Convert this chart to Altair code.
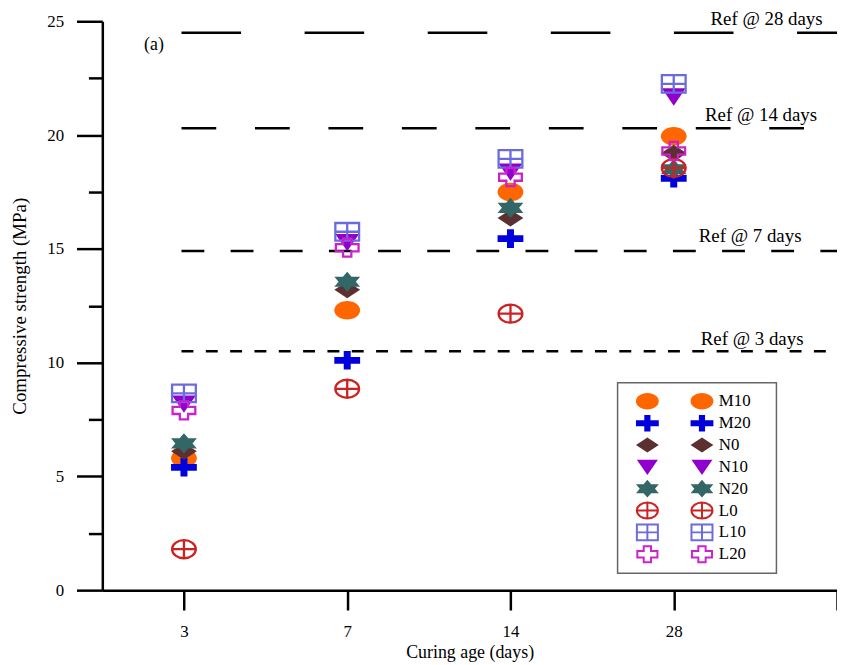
import json
import altair as alt
import pandas as pd

# ---------------- data ----------------
ages = ["3", "7", "14", "28"]
series = ["M10", "M20", "N0", "N10", "N20", "L0", "L10", "L20"]
M10 = [5.8, 12.3, 17.5, 19.95]
M20 = [5.4, 10.1, 15.45, 18.1]
N0 = [6.1, 13.2, 16.35, 19.2]
N10 = [8.2, 15.3, 18.4, 21.7]
N20 = [6.45, 13.55, 16.8, 18.5]
L0 = [1.8, 8.85, 12.15, 18.55]
L10 = [8.65, 15.75, 18.95, 22.25]
L20 = [7.9, 15.05, 18.15, 19.3]
values = {"M10": M10, "M20": M20, "N0": N0, "N10": N10, "N20": N20,
          "L0": L0, "L10": L10, "L20": L20}

ref_values = [10.5, 14.9, 20.3, 24.5]
ref_labels = ["Ref @ 3 days", "Ref @ 7 days", "Ref @ 14 days", "Ref @ 28 days"]
panel_label = ["(a)"]

rows = []
for s in series:
    for i, a in enumerate(ages):
        rows.append({"series": s, "age": a, "pos": i + 1, "value": values[s][i]})
df = pd.DataFrame(rows)
df_ref = pd.DataFrame({"value": ref_values, "label": ref_labels})

# ---------------- styles ----------------
FONT = "Liberation Serif"
fill_colors = ["#FF6600", "#0000DD", "#5C3030", "#9000CC", "#336666",
               "transparent", "transparent", "transparent"]
stroke_colors = ["transparent"] * 5 + ["#CC2222", "#6B6BE0", "#CC22CC"]


def ellipse(rx, ry, cx, s):
    a, b = rx * s, ry * s
    return (f"M{cx - a:.4f},0A{a:.4f},{b:.4f} 0 1,1 {cx + a:.4f},0"
            f"A{a:.4f},{b:.4f} 0 1,1 {cx - a:.4f},0Z")


def poly(pts, cx, s):
    return "M" + "L".join(f"{cx + x * s:.4f},{y * s:.4f}" for x, y in pts) + "Z"


def seg(x1, y1, x2, y2, cx, s):
    return f"M{cx + x1 * s:.4f},{y1 * s:.4f}L{cx + x2 * s:.4f},{y2 * s:.4f}"


def plus_pts(a, b, hx, hy):
    return [(-a, -hy), (-hx, -hy), (-hx, -b), (hx, -b), (hx, -hy), (a, -hy),
            (a, hy), (hx, hy), (hx, b), (-hx, b), (-hx, hy), (-a, hy)]


star = [(0, -0.78), (0.3333, -0.39), (1, -0.39), (0.6667, 0), (1, 0.39),
        (0.3333, 0.39), (0, 0.78), (-0.3333, 0.39), (-1, 0.39), (-0.6667, 0),
        (-1, -0.39), (-0.3333, -0.39)]

shape_fns = {
    "M10": lambda cx, s: ellipse(1, 0.72, cx, s),
    "M20": lambda cx, s: poly(plus_pts(1, 0.72, 0.27, 0.26), cx, s),
    "N0": lambda cx, s: poly([(-1, 0), (0, -0.65), (1, 0), (0, 0.65)], cx, s),
    "N10": lambda cx, s: poly([(-0.92, -0.62), (0.92, -0.62), (0, 0.72)], cx, s),
    "N20": lambda cx, s: poly(star, cx, s),
    "L0": lambda cx, s: (ellipse(0.92, 0.7, cx, s) + seg(-0.92, 0, 0.92, 0, cx, s)
                         + seg(0, -0.7, 0, 0.7, cx, s)),
    "L10": lambda cx, s: (poly([(-0.92, -0.68), (0.92, -0.68), (0.92, 0.68), (-0.92, 0.68)], cx, s)
                          + seg(-0.92, 0, 0.92, 0, cx, s) + seg(0, -0.68, 0, 0.68, cx, s)),
    "L20": lambda cx, s: poly(plus_pts(0.88, 0.7, 0.32, 0.28), cx, s),
}
plot_paths = [shape_fns[k](0, 1) for k in series]
# legend: two copies of each marker per row
legend_paths = [shape_fns[k](-0.475, 0.2875) + shape_fns[k](0.9, 0.2875) for k in series]

x_labels = json.dumps(ages + [""])

x_enc = alt.X(
    "pos:Q",
    scale=alt.Scale(domain=[0.5, 5], nice=False, zero=False),
    axis=alt.Axis(
        values=[1, 2, 3, 4, 5], labelExpr=f"{x_labels}[datum.value - 1]",
        title="Curing age (days)", grid=False, tickSize=20, tickWidth=2.5,
        domainWidth=2.5, domainColor="black", tickColor="black",
        labelFont=FONT, labelFontSize=17, labelColor="black", labelPadding=14,
        titleFont=FONT, titleFontSize=18, titleFontWeight="normal",
        titleColor="black", titleY=68, titleBaseline="alphabetic",
    ),
)
y_enc = alt.Y(
    "value:Q",
    scale=alt.Scale(domain=[0, 25], nice=False),
    axis=alt.Axis(
        values=[0, 2.5, 5, 7.5, 10, 12.5, 15, 17.5, 20, 22.5, 25],
        labelExpr="datum.value % 5 === 0 ? datum.label : ''",
        tickSize={"condition": {"test": "datum.value % 5 !== 0", "value": 14}, "value": 26},
        title="Compressive strength (MPa)", grid=False, tickWidth=2.5,
        domainWidth=2.5, domainColor="black", tickColor="black",
        labelFont=FONT, labelFontSize=17, labelColor="black", labelPadding=13,
        titleFont=FONT, titleFontSize=19, titleFontWeight="normal",
        titleColor="black", titleX=-83, titleBaseline="middle",
    ),
)

points = alt.Chart(df).mark_point(size=676, opacity=1, strokeWidth=2.3).encode(
    x=x_enc,
    y=y_enc,
    shape=alt.Shape("series:N", scale=alt.Scale(domain=series, range=plot_paths), legend=None),
    fill=alt.Fill("series:N", scale=alt.Scale(domain=series, range=fill_colors), legend=None),
    stroke=alt.Stroke("series:N", scale=alt.Scale(domain=series, range=stroke_colors), legend=None),
)

legend_layer = alt.Chart(df).transform_filter("false").mark_point(size=676, opacity=1).encode(
    x="pos:Q",
    y="value:Q",
    shape=alt.Shape(
        "series:N", scale=alt.Scale(domain=series, range=legend_paths),
        legend=alt.Legend(
            title="\u00a0", titleOrient="right", titlePadding=18, titleFontSize=8,
            orient="none", legendX=519, legendY=364,
            symbolSize=6400, symbolStrokeWidth=2, clipHeight=21.6, rowPadding=0,
            labelFont=FONT, labelFontSize=17, labelColor="black", labelOffset=12,
            padding=8, strokeColor="#666666", fillColor="white",
        ),
    ),
    fill=alt.Fill("series:N", scale=alt.Scale(domain=series, range=fill_colors)),
    stroke=alt.Stroke("series:N", scale=alt.Scale(domain=series, range=stroke_colors)),
)

ref_rules = alt.Chart(df_ref).mark_rule(strokeWidth=2.5, color="black").encode(
    x=alt.datum(0.985),
    x2=alt.datum(5),
    y="value:Q",
    strokeDash=alt.StrokeDash(
        "label:N",
        scale=alt.Scale(domain=ref_labels, range=[[12, 12.5], [23, 26.5], [35, 39], [60, 64]]),
        legend=None,
    ),
)

label_offsets = {"Ref @ 3 days": (-85.5, -12), "Ref @ 7 days": (-87.5, -15),
                 "Ref @ 14 days": (-76.5, -13), "Ref @ 28 days": (-71, -14)}
ref_texts = []
for lab in ref_labels:
    dx, dy = label_offsets[lab]
    ref_texts.append(
        alt.Chart(df_ref).transform_filter(alt.datum.label == lab)
        .mark_text(font=FONT, fontSize=19, color="black", align="center",
                   baseline="middle", dx=dx, dy=dy)
        .encode(x=alt.datum(5), y="value:Q", text="label:N")
    )

panel = alt.Chart(pd.DataFrame({"t": panel_label})).mark_text(
    font=FONT, fontSize=18, color="black", align="center", baseline="middle", dx=52, dy=24
).encode(x=alt.datum(0.5), y=alt.datum(25), text="t:N")

chart = alt.layer(ref_rules, *ref_texts, panel, points, legend_layer).resolve_scale(
    shape="independent", fill="independent", stroke="independent"
).properties(
    width=740, height=573,
    padding={"left": 95, "top": 11, "right": 0, "bottom": 72},
    autosize=alt.AutoSizeParams(type="none"),
    background="white",
).configure_view(stroke=None).configure_legend(strokeWidth=1.5)

chart.save("out.html", embed_options={"renderer": "svg", "actions": False})
